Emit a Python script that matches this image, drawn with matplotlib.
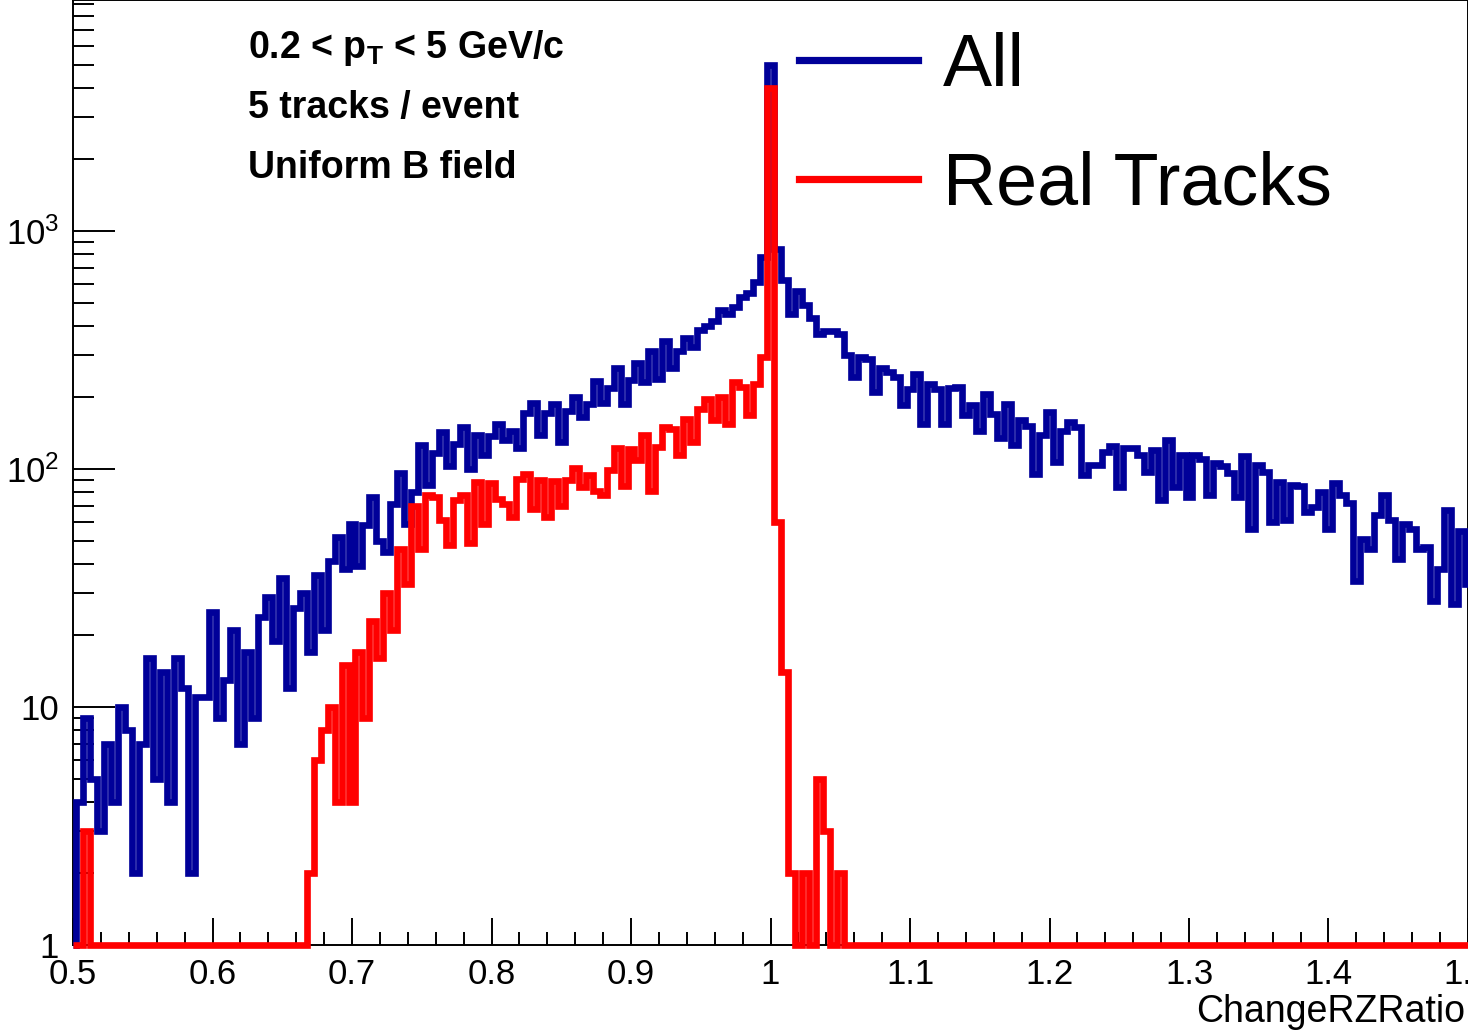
import numpy as np
import matplotlib
matplotlib.use("Agg")
import matplotlib.pyplot as plt
from matplotlib.lines import Line2D
from matplotlib.ticker import FixedLocator, MultipleLocator, LogLocator, NullFormatter

plt.rcParams["font.family"] = ["Liberation Sans", "DejaVu Sans"]
plt.rcParams["mathtext.fontset"] = "custom"
plt.rcParams["mathtext.rm"] = "Liberation Sans"
plt.rcParams["mathtext.bf"] = "Liberation Sans:bold"
plt.rcParams["mathtext.it"] = "Liberation Sans:italic"

# histogram: 201 bins of width 0.005, centred on 0.500 ... 1.500
bin_lo = 0.4975
bin_width = 0.005

all_counts = [
    0, 4, 9, 5, 3, 7, 4, 10, 8, 2,
    7, 16, 5, 14, 4, 16, 12, 2, 11, 11,
    25, 9, 13, 21, 7, 17, 9, 24, 29, 19,
    35, 12, 26, 30, 17, 36, 21, 41, 52, 38,
    59, 39, 58, 76, 50, 45, 71, 96, 59, 80,
    126, 86, 117, 143, 103, 128, 150, 100, 139, 114,
    137, 155, 132, 145, 123, 172, 190, 139, 172, 188,
    130, 176, 200, 165, 188, 235, 190, 220, 265, 188,
    237, 280, 231, 313, 240, 345, 267, 313, 355, 325,
    385, 400, 420, 465, 450, 480, 530, 550, 610, 780,
    5000, 840, 620, 450, 560, 490, 430, 370, 380, 380,
    370, 300, 243, 296, 290, 210, 265, 256, 243, 185,
    216, 251, 155, 227, 216, 155, 218, 222, 168, 185,
    144, 206, 170, 135, 188, 126, 161, 152, 95, 139,
    173, 107, 145, 157, 150, 94, 104, 104, 118, 125,
    84, 123, 123, 114, 97, 120, 74, 132, 84, 115,
    76, 114, 110, 78, 106, 103, 96, 76, 113, 56,
    104, 97, 60, 88, 61, 86, 85, 66, 69, 80,
    56, 87, 78, 72, 34, 51, 46, 64, 78, 61,
    42, 59, 56, 46, 47, 28, 38, 67, 27, 55,
    33,
]

real_counts = (
    [0, 0, 3] + [0] * 31
    + [2, 6, 8, 10, 4, 15,
       4, 17, 9, 23, 16, 30, 21, 46, 33, 70,
       46, 78, 76, 61, 48, 74, 78, 49, 88, 59,
       87, 75, 71, 63, 91, 95, 68, 90, 63, 89,
       70, 90, 101, 84, 94, 81, 78, 99, 123, 85,
       121, 109, 139, 81, 124, 150, 147, 114, 162, 130,
       178, 197, 160, 200, 155, 232, 222, 168, 227, 296,
       4000, 60, 14, 2, 0, 2, 0, 5, 3, 0,
       2]
    + [0] * 90
)

x_ticks = [0.5, 0.6, 0.7, 0.8, 0.9, 1.0, 1.1, 1.2, 1.3, 1.4, 1.5]
x_tick_labels = ["0.5", "0.6", "0.7", "0.8", "0.9", "1", "1.1", "1.2", "1.3", "1.4", "1.5"]
y_ticks = [1, 10, 100, 1000]
y_tick_labels = ["1", "10", r"$\mathregular{10^{2}}$", r"$\mathregular{10^{3}}$"]

blue = "#000099"
red = "#ff0000"

edges = bin_lo + bin_width * np.arange(len(all_counts) + 1)
edges = np.clip(edges, 0.5, 1.5)

fig = plt.figure(figsize=(14.68, 10.30), dpi=100)
ax = fig.add_axes([73 / 1468, 85 / 1030, 1395 / 1468, 945 / 1030])

ax.stairs(np.clip(all_counts, 1, None), edges, baseline=None, color=blue,
          linewidth=4.8, clip_on=False, zorder=3)
ax.stairs(np.clip(real_counts, 1, None), edges, baseline=None, color=red,
          linewidth=4.8, clip_on=False, zorder=4)

ax.set_yscale("log")
ax.set_xlim(0.5, 1.5)
ax.set_ylim(1, 9350)

ax.xaxis.set_major_locator(FixedLocator(x_ticks))
ax.set_xticklabels(x_tick_labels)
ax.xaxis.set_minor_locator(MultipleLocator(0.02))
ax.yaxis.set_major_locator(FixedLocator(y_ticks))
ax.set_yticklabels(y_tick_labels)
ax.yaxis.set_minor_locator(LogLocator(base=10, subs=range(2, 10)))
ax.yaxis.set_minor_formatter(NullFormatter())

ax.tick_params(axis="x", which="major", direction="in", length=19.5, width=1.4,
               labelsize=25, pad=9)
ax.tick_params(axis="x", which="minor", direction="in", length=9.5, width=1.4)
ax.tick_params(axis="y", which="major", direction="in", length=30, width=1.4,
               labelsize=25, pad=10)
ax.tick_params(axis="y", which="minor", direction="in", length=15, width=1.4)
for sp in ax.spines.values():
    sp.set_linewidth(1.4)

fig.text(1465 / 1468, 1 - 1012 / 1030, "ChangeRZRatio", ha="right", va="center",
         fontsize=27)

info = [r"0.2 < $\mathbf{p_{T}}$ < 5 GeV/c", "5 tracks / event", "Uniform B field"]
for i, line in enumerate(info):
    fig.text(248 / 1468, 1 - (58 + 60 * i) / 1030, line, ha="left", va="baseline",
             fontsize=27, fontweight="bold")

handles = [Line2D([], [], color=blue, linewidth=5.2),
           Line2D([], [], color=red, linewidth=5.2)]
ax.legend(handles, ["All", "Real Tracks"], loc="upper left",
          bbox_to_anchor=(799 / 1468, 1 - 32 / 1030), bbox_transform=fig.transFigure,
          frameon=False, fontsize=53, handlelength=1.62, handletextpad=0.34,
          borderpad=0, borderaxespad=0, labelspacing=0.67)

fig.savefig("out.png", dpi=100)
